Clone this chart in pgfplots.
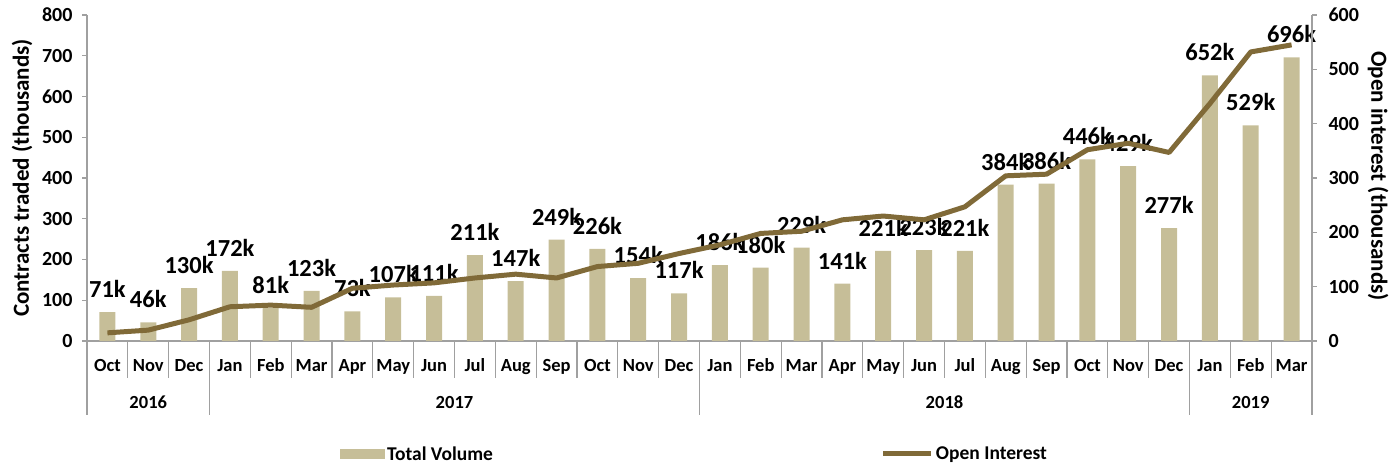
\documentclass[border=0pt]{standalone}
\usepackage{pgfplots}
\pgfplotsset{compat=1.18}
\usepackage{fontspec}
\setmainfont{Carlito}
\definecolor{barc}{RGB}{198,190,152}
\definecolor{linec}{RGB}{128,106,56}
\definecolor{axc}{RGB}{160,160,160}
\newcommand{\tk}{\fontsize{18.5}{18.5}\selectfont\bfseries}
\newcommand{\yk}{\fontsize{20}{20}\selectfont\bfseries}
\newcommand{\legf}{\fontsize{19.5}{19.5}\selectfont\bfseries}
\newcommand{\dl}{\fontsize{24.5}{24.5}\selectfont\bfseries}
\pgfplotsset{
  lineleg/.style={legend image code/.code={\draw[##1] (0pt,0pt) -- (48pt,0pt);}},
  barleg/.style={legend image code/.code={\fill[##1] (0pt,-5pt) rectangle (45pt,5pt);}},
}
\begin{document}
\begin{tikzpicture}[x=1pt,y=1pt]
\useasboundingbox (0,0) rectangle (1389,465);
\begin{axis}[
  at={(87pt,124pt)}, anchor=south west,
  width=1225pt, height=326pt, scale only axis,
  xmin=-0.5, xmax=29.5, ymin=0, ymax=800,
  axis x line*=bottom, axis y line*=left,
  axis line style={axc, line width=1.2pt},
  every tick/.style={axc, line width=1.2pt},
  ytick={0,100,...,800}, major tick length=5pt,
  tick align=outside,
  xtick=data, xtick style={draw=none},
  xticklabels={Oct,Nov,Dec,Jan,Feb,Mar,Apr,May,Jun,Jul,Aug,Sep,Oct,Nov,Dec,Jan,Feb,Mar,Apr,May,Jun,Jul,Aug,Sep,Oct,Nov,Dec,Jan,Feb,Mar},
  xticklabel style={font=\tk, anchor=base, yshift=-26pt},
  yticklabel style={font=\yk, xshift=-6pt},
  /pgf/number format/assume math mode=true,
  clip=false,
  ybar, bar width=16pt,
  nodes near coords={\pgfmathprintnumber[assume math mode=true]{\pgfplotspointmeta}k},
  every node near coord/.append style={font=\dl, anchor=center, yshift=23pt, black},
  legend columns=2,
  legend style={at={(0.2040,-0.3466)}, anchor=west, draw=none, fill=none, font=\legf,
    /tikz/every even column/.append style={column sep=386pt}},
]
\addplot[fill=barc, draw=none, barleg] coordinates {
(0,71) (1,46) (2,130) (3,172) (4,81) (5,123) (6,73) (7,107) (8,111) (9,211)
(10,147) (11,249) (12,226) (13,154) (14,117) (15,186) (16,180) (17,229) (18,141) (19,221)
(20,223) (21,221) (22,384) (23,386) (24,446) (25,429) (26,277) (27,652) (28,529) (29,696)};
\addlegendentry{Total Volume}
\addlegendimage{linec, line width=5pt, lineleg}
\addlegendentry{Open Interest}
\pgfplotsinvokeforeach{0.5,1.5,3.5,4.5,5.5,6.5,7.5,8.5,9.5,10.5,11.5,12.5,13.5,15.5,16.5,17.5,18.5,19.5,20.5,21.5,22.5,23.5,24.5,25.5,27.5,28.5}{
  \draw[axc, line width=1.2pt] (axis cs:#1,0) -- ([yshift=-37pt]axis cs:#1,0);
}
\pgfplotsinvokeforeach{-0.5,2.5,14.5,26.5,29.5}{
  \draw[axc, line width=1.2pt] (axis cs:#1,0) -- ([yshift=-74pt]axis cs:#1,0);
}
\node[font=\tk, anchor=base] at ([yshift=-68pt]axis cs:1,0) {2016};
\node[font=\tk, anchor=base] at ([yshift=-68pt]axis cs:8.5,0) {2017};
\node[font=\tk, anchor=base] at ([yshift=-68pt]axis cs:20.5,0) {2018};
\node[font=\tk, anchor=base] at ([yshift=-68pt]axis cs:28,0) {2019};
\end{axis}
\begin{axis}[
  at={(87pt,124pt)}, anchor=south west,
  width=1225pt, height=326pt, scale only axis,
  xmin=-0.5, xmax=29.5, ymin=0, ymax=600,
  axis x line=none, axis y line*=right,
  axis line style={axc, line width=1.2pt},
  every tick/.style={axc, line width=1.2pt},
  ytick={0,100,...,600}, major tick length=5pt, tick align=outside,
  yticklabel style={font=\yk, xshift=8pt},
  /pgf/number format/assume math mode=true,
  clip=false,
]
\addplot[linec, line width=5pt, line join=round] coordinates {
(0,15) (1,20) (2,39) (3,63) (4,66) (5,62) (6,97) (7,103) (8,107) (9,116)
(10,123) (11,116) (12,137) (13,143) (14,161) (15,177) (16,198) (17,202) (18,223) (19,230)
(20,223) (21,247) (22,304) (23,307) (24,352) (25,364) (26,347) (27,437) (28,532) (29,545)};
\end{axis}
\node[font=\fontsize{23}{23}\selectfont\bfseries, rotate=90] at (22,287) {Contracts traded (thousands)};
\node[font=\fontsize{23}{23}\selectfont\bfseries, rotate=-90] at (1378,289) {Open interest (thousands)};
\end{tikzpicture}
\end{document}
